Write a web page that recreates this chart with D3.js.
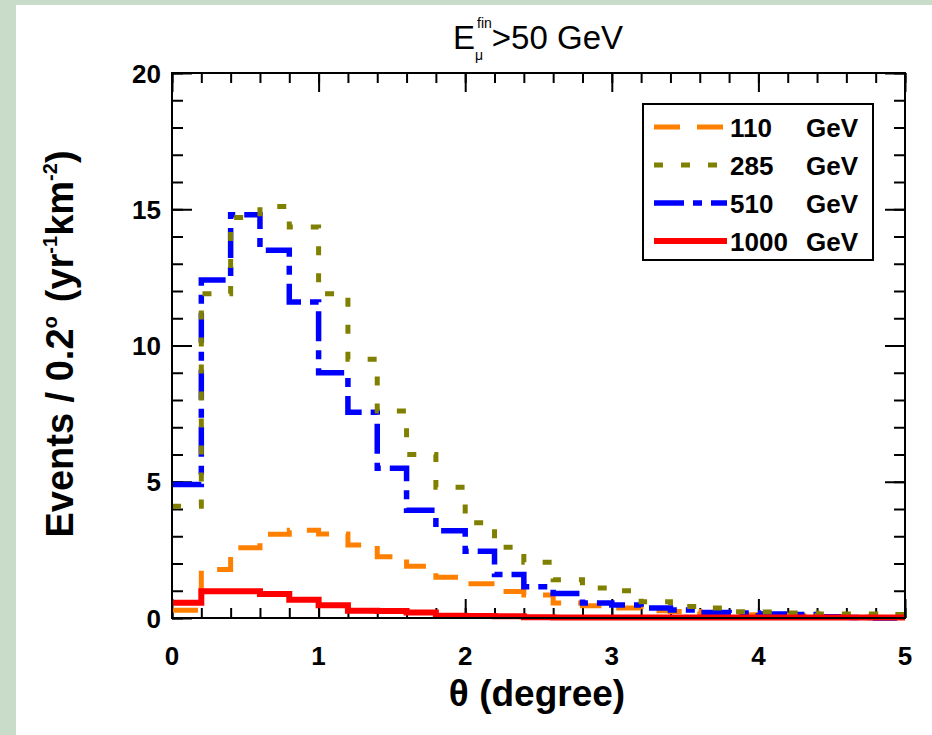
<!DOCTYPE html>
<html><head><meta charset="utf-8">
<script src="https://cdn.jsdelivr.net/npm/d3@7"></script>
<style>
html,body{margin:0;padding:0;background:#fff;}
svg{display:block;}
text{font-family:"Liberation Sans",Arial,Helvetica,sans-serif;fill:#000;}
</style></head>
<body><svg id="chart" width="932" height="735"></svg>
<script>
// ---- data ----
const binEdges = d3.range(0, 5.0001, 0.2).map(d => +d.toFixed(1)); // 0,0.2,...,5
const seriesNames = ["110", "285", "510", "1000"];
const values110 = [0.28, 1.78, 2.58, 3.07, 3.22, 3.08, 2.68, 2.25, 1.9, 1.5, 1.26, 0.97, 0.84, 0.55, 0.45, 0.37, 0.27, 0.24, 0.2, 0.12, 0.1, 0.08, 0.05, 0.03, 0.02];
const values285 = [4.1, 11.9, 14.7, 15.1, 14.35, 11.9, 9.5, 7.6, 6.0, 4.8, 3.5, 2.6, 2.05, 1.4, 1.1, 1.0, 0.6, 0.42, 0.37, 0.23, 0.22, 0.18, 0.15, 0.15, 0.13];
const values510 = [4.9, 12.4, 14.8, 13.5, 11.6, 9.0, 7.55, 5.5, 3.95, 3.2, 2.45, 1.6, 1.15, 0.9, 0.55, 0.48, 0.37, 0.29, 0.2, 0.18, 0.15, 0.13, 0.05, 0.02, 0.0];
const values1000 = [0.56, 0.98, 0.98, 0.88, 0.67, 0.47, 0.27, 0.26, 0.2, 0.08, 0.07, 0.06, 0.03, 0.02, 0.02, 0.02, 0.02, 0.02, 0.02, 0.02, 0.02, 0.02, 0.02, 0.02, 0.02];
const xTicks = [0, 1, 2, 3, 4, 5];
const yTicks = [0, 5, 10, 15, 20];

// ---- layout ----
const svg = d3.select("#chart");
const W = 932, H = 735;
const L = 172, R = 905, T = 73, B = 618;
const x = d3.scaleLinear().domain([0, 5]).range([L, R]);
const y = d3.scaleLinear().domain([0, 20]).range([B, T]);

svg.append("rect").attr("width", W).attr("height", H).attr("fill", "#ffffff");
svg.append("rect").attr("x", 0).attr("y", 0).attr("width", 16).attr("height", H).attr("fill", "#c9dcc9");
svg.append("rect").attr("x", 0).attr("y", 0).attr("width", W).attr("height", 5).attr("fill", "#c9dcc9");

function sText(g, tx, ty, anchor, size, weight) {
  return g.append("text")
    .attr("x", tx).attr("y", ty)
    .attr("text-anchor", anchor)
    .attr("font-size", size)
    .attr("font-weight", weight);
}

// ---- axes (ticks inward on all sides) ----
const minorX = d3.range(0, 5.0001, 0.2);
const minorY = d3.range(0, 20.0001, 1);
const axG = svg.append("g");
function addAxis(axis, tr) {
  const g = axG.append("g").attr("transform", tr).call(axis);
  g.select(".domain").remove();
  g.selectAll("line").attr("stroke", "#000").attr("stroke-width", 2);
  g.selectAll("text").remove();
}
addAxis(d3.axisBottom(x).tickValues(minorX).tickSizeInner(-10).tickSizeOuter(0), `translate(0,${B})`);
addAxis(d3.axisBottom(x).tickValues(xTicks).tickSizeInner(-19).tickSizeOuter(0), `translate(0,${B})`);
addAxis(d3.axisTop(x).tickValues(minorX).tickSizeInner(-10).tickSizeOuter(0), `translate(0,${T})`);
addAxis(d3.axisTop(x).tickValues(xTicks).tickSizeInner(-19).tickSizeOuter(0), `translate(0,${T})`);
addAxis(d3.axisLeft(y).tickValues(minorY).tickSizeInner(-11).tickSizeOuter(0), `translate(${L},0)`);
addAxis(d3.axisLeft(y).tickValues(yTicks).tickSizeInner(-20).tickSizeOuter(0), `translate(${L},0)`);
addAxis(d3.axisRight(y).tickValues(minorY).tickSizeInner(-11).tickSizeOuter(0), `translate(${R},0)`);
addAxis(d3.axisRight(y).tickValues(yTicks).tickSizeInner(-20).tickSizeOuter(0), `translate(${R},0)`);

// tick labels
xTicks.forEach(v => {
  sText(svg, x(v), 665, "middle", 26, "bold").text(d3.format("d")(v));
});
yTicks.forEach(v => {
  sText(svg, 161, y(v) + 9.5, "end", 26, "bold").text(d3.format("d")(v));
});

// ---- series ----
const series = [
  {name: "110", vals: values110, color: "#ff8000", dash: "26,17", w: 5},
  {name: "510", vals: values510, color: "#0000ff", dash: "30,9,9,9", w: 5.5},
  {name: "285", vals: values285, color: "#808000", dash: "9,18", w: 5},
  {name: "1000", vals: values1000, color: "#ff0000", dash: null, w: 6}
];
const line = d3.line().x(d => x(d[0])).y(d => y(d[1])).curve(d3.curveStepAfter);
const plotG = svg.append("g");
series.forEach(s => {
  const pts = s.vals.map((v, i) => [binEdges[i], v]);
  pts.push([binEdges[binEdges.length - 1], s.vals[s.vals.length - 1]]);
  plotG.append("path").datum(pts).attr("d", line)
    .attr("fill", "none").attr("stroke", s.color).attr("stroke-width", s.w)
    .attr("stroke-dasharray", s.dash).attr("stroke-linejoin", "miter");
});

// frame
svg.append("rect").attr("x", L).attr("y", T).attr("width", R - L).attr("height", B - T)
  .attr("fill", "none").attr("stroke", "#000").attr("stroke-width", 2);

// ---- legend ----
const lg = svg.append("g");
lg.append("rect").attr("x", 643).attr("y", 104).attr("width", 230).attr("height", 156)
  .attr("fill", "#fff").attr("stroke", "#000").attr("stroke-width", 2);
const legOrder = ["110", "285", "510", "1000"];
legOrder.forEach((n, i) => {
  const s = series.find(d => d.name === n);
  const ly = 127 + i * 38;
  lg.append("line").attr("x1", 654).attr("x2", 727).attr("y1", ly).attr("y2", ly)
    .attr("stroke", s.color).attr("stroke-width", s.w).attr("stroke-dasharray", s.dash);
  sText(lg, 730, ly + 9.5, "start", 26, "bold").text(n);
  sText(lg, 806, ly + 9.5, "start", 26, "bold").text("GeV");
});

// ---- titles ----
const tt = svg.append("text").attr("x", 538).attr("y", 49)
  .attr("text-anchor", "middle").attr("font-size", 33);
tt.append("tspan").text("E");
tt.append("tspan").attr("font-size", 14).attr("dy", 11).text("μ");
tt.append("tspan").attr("font-size", 14).attr("dx", -6).attr("dy", -32).text("fin");
tt.append("tspan").attr("dy", 21).text(">50 GeV");

sText(svg, 537, 706, "middle", 37, "bold").text("θ (degree)");

const yt = svg.append("text").attr("transform", "translate(73,344) rotate(-90)")
  .attr("text-anchor", "middle").attr("font-size", 38).attr("font-weight", "bold");
yt.append("tspan").text("Events / 0.2");
yt.append("tspan").attr("font-size", 20).attr("dy", -16).text("o");
yt.append("tspan").attr("dx", 14).attr("dy", 16).text("(yr");
yt.append("tspan").attr("font-size", 20).attr("dy", -16).text("-1");
yt.append("tspan").attr("dy", 16).text("km");
yt.append("tspan").attr("font-size", 20).attr("dy", -16).text("-2");
yt.append("tspan").attr("dy", 16).text(")");
</script></body></html>
